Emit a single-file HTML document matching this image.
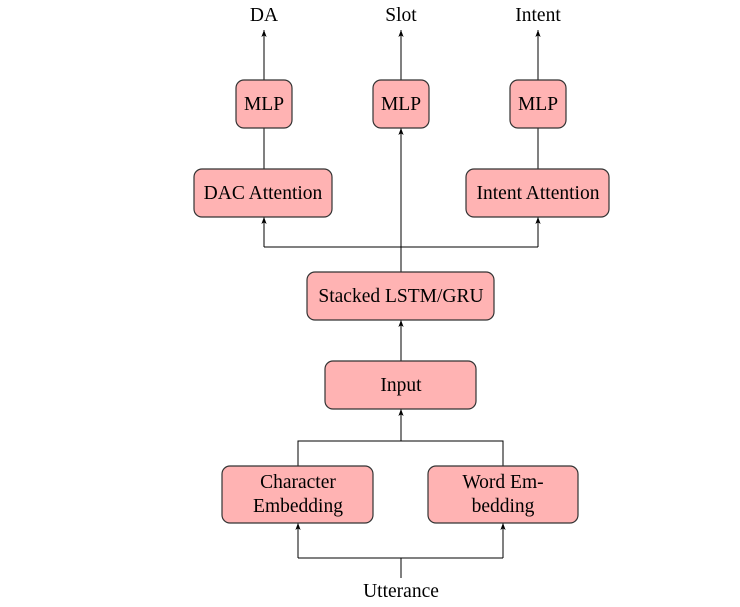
<!DOCTYPE html>
<html><head><style>
body{margin:0;background:#fff;}
svg text{font-family:"Liberation Serif",serif;font-size:19.5px;fill:#000;}
.b{fill:#ffb3b3;stroke:#333;stroke-width:1.2;}
.l{stroke:#000;stroke-width:1;fill:none;}
</style></head><body>
<svg width="740" height="602" viewBox="0 0 740 602" xmlns="http://www.w3.org/2000/svg">
<defs><marker id="a" viewBox="0 0 8 8" refX="8" refY="4" markerWidth="7" markerHeight="7" orient="auto"><path d="M0,1 L8,4 L0,7 L2,4 z" fill="#000"/></marker></defs>
<path class="l" d="M264,80 V30" marker-end="url(#a)"/>
<path class="l" d="M401,80 V30" marker-end="url(#a)"/>
<path class="l" d="M538,80 V30" marker-end="url(#a)"/>
<path class="l" d="M264,169 V128"/>
<path class="l" d="M538,169 V128"/>
<path class="l" d="M401,272 V128" marker-end="url(#a)"/>
<path class="l" d="M264,247 H538"/>
<path class="l" d="M264,247 V217" marker-end="url(#a)"/>
<path class="l" d="M538,247 V217" marker-end="url(#a)"/>
<path class="l" d="M401,361 V320" marker-end="url(#a)"/>
<path class="l" d="M298,466 V441 H503 V466"/>
<path class="l" d="M401,441 V409" marker-end="url(#a)"/>
<path class="l" d="M401,578 V558"/>
<path class="l" d="M298,558 H503"/>
<path class="l" d="M298,558 V523" marker-end="url(#a)"/>
<path class="l" d="M503,558 V523" marker-end="url(#a)"/>
<rect class="b" x="236" y="80" width="56" height="48" rx="8"/>
<rect class="b" x="373" y="80" width="56" height="48" rx="8"/>
<rect class="b" x="510" y="80" width="56" height="48" rx="8"/>
<rect class="b" x="194" y="169" width="138" height="48" rx="8"/>
<rect class="b" x="466" y="169" width="143" height="48" rx="8"/>
<rect class="b" x="307" y="272" width="187" height="48" rx="8"/>
<rect class="b" x="325" y="361" width="151" height="48" rx="8"/>
<rect class="b" x="222" y="466" width="151" height="57" rx="8"/>
<rect class="b" x="428" y="466" width="150" height="57" rx="8"/>
<g text-anchor="middle">
<text x="264" y="21">DA</text>
<text x="401" y="21">Slot</text>
<text x="538" y="21">Intent</text>
<text x="264" y="110">MLP</text>
<text x="401" y="110">MLP</text>
<text x="538" y="110">MLP</text>
<text x="263" y="199">DAC Attention</text>
<text x="538" y="199">Intent Attention</text>
<text x="401" y="302">Stacked LSTM/GRU</text>
<text x="401" y="391">Input</text>
<text x="298" y="488">Character</text>
<text x="298" y="512">Embedding</text>
<text x="503" y="488">Word Em-</text>
<text x="503" y="512">bedding</text>
<text x="401" y="597">Utterance</text>
</g>
</svg>
</body></html>
